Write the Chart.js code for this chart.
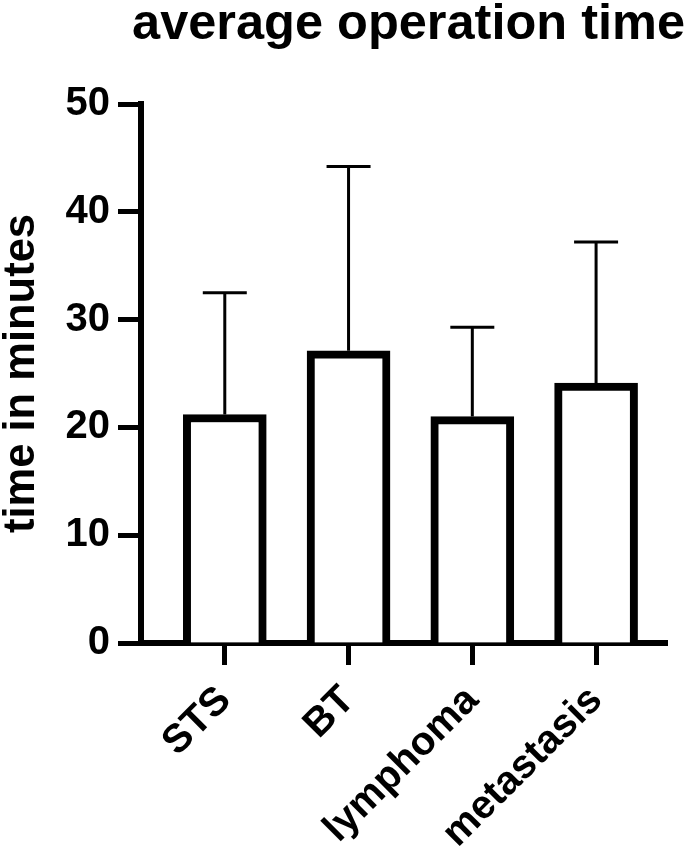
<!DOCTYPE html>
<html>
<head>
<meta charset="utf-8">
<script src="https://cdn.jsdelivr.net/npm/chart.js@4.4.1/dist/chart.umd.min.js"></script>
<style>
    html, body { margin: 0; padding: 0; background: #fff; }
    #wrap { width: 685px; height: 849px; position: relative; }
</style>
</head>
<body>
<div id="wrap"><canvas id="opChart"></canvas></div>
<script>
"use strict";

// values (mean and upper SD, minutes)
const categories = ["STS", "BT", "lymphoma", "metastasis"];
const meanTime = [21.2, 27.1, 21.0, 24.1];
const sdTime = [11.3, 17.1, 8.3, 13.1];
const yTicks = [0, 10, 20, 30, 40, 50];

const FONT = "'Liberation Sans', Arial, Helvetica, sans-serif";

const errorBars = {
    id: "errorBars",
    afterDatasetsDraw(chart) {
        const { ctx, scales } = chart;
        const x = scales.x;
        const y = scales.y;

        ctx.save();
        ctx.strokeStyle = "#000";
        ctx.lineWidth = 3;
        ctx.lineCap = "butt";
        meanTime.forEach((m, i) => {
            const px = x.getPixelForValue(i);
            const y0 = y.getPixelForValue(m);
            const y1 = y.getPixelForValue(m + sdTime[i]);
            ctx.beginPath();
            ctx.moveTo(px, y0);
            ctx.lineTo(px, y1);
            ctx.moveTo(px - 22, y1);
            ctx.lineTo(px + 22, y1);
            ctx.stroke();
        });
        ctx.restore();
    }
};

document.addEventListener("DOMContentLoaded", () => {
    const ctx = document.getElementById("opChart");

    Chart.defaults.font.family = FONT;
    Chart.defaults.color = "#000";

    new Chart(ctx, {
        type: "bar",
        data: {
            datasets: [{
                label: "average operation time",
                data: meanTime.map((v, i) => ({ x: i, y: v })),
                backgroundColor: "#fff",
                borderColor: "#000",
                borderWidth: 8,
                borderSkipped: "start",
                barThickness: 83
            }]
        },
        options: {
            responsive: true,
            maintainAspectRatio: false,
            animation: false,
            layout: { padding: 0 },
            plugins: {
                legend: { display: false },
                tooltip: { enabled: false },
                title: {
                    display: true,
                    text: "average operation time",
                    align: "end",
                    color: "#000",
                    font: { size: 50.5, weight: "bold", family: FONT, lineHeight: 1 },
                    padding: { top: 0, bottom: 53.5 }
                }
            },
            scales: {
                x: {
                    type: "linear",
                    min: -0.677,
                    max: 3.573,
                    offset: false,
                    afterBuildTicks: scale => {
                        scale.ticks = categories.map((c, i) => ({ value: i }));
                    },
                    afterFit: scale => { scale.height = 206; },
                    grid: {
                        offset: false,
                        drawOnChartArea: false,
                        drawTicks: true,
                        tickLength: 22,
                        tickWidth: 5,
                        tickColor: "#000"
                    },
                    border: { display: true, width: 6, color: "#000" },
                    ticks: {
                        autoSkip: false,
                        maxRotation: 45,
                        minRotation: 45,
                        padding: 12,
                        color: "#000",
                        font: { size: 40, weight: "bold", family: FONT },
                        callback: value => categories[value] ?? ""
                    }
                },
                y: {
                    min: 0,
                    max: 50,
                    afterBuildTicks: scale => {
                        scale.ticks = yTicks.map(v => ({ value: v }));
                    },
                    afterFit: scale => { scale.width = 141; },
                    grid: {
                        drawOnChartArea: false,
                        drawTicks: true,
                        tickLength: 23,
                        tickWidth: 5,
                        tickColor: "#000"
                    },
                    border: { display: true, width: 6, color: "#000" },
                    ticks: {
                        padding: 8,
                        color: "#000",
                        font: { size: 40, weight: "bold", family: FONT }
                    },
                    title: {
                        display: true,
                        text: "time in minutes",
                        color: "#000",
                        padding: 0,
                        font: { size: 43.5, weight: "bold", family: FONT, lineHeight: 1 }
                    }
                },
                // empty right-hand axis, only keeps the plot clear of the right edge
                yRight: {
                    position: "right",
                    min: 0,
                    max: 50,
                    afterFit: scale => { scale.width = 18; },
                    grid: { display: false },
                    border: { display: false },
                    ticks: { display: false }
                }
            }
        },
        plugins: [errorBars]
    });
});
</script>
</body>
</html>
